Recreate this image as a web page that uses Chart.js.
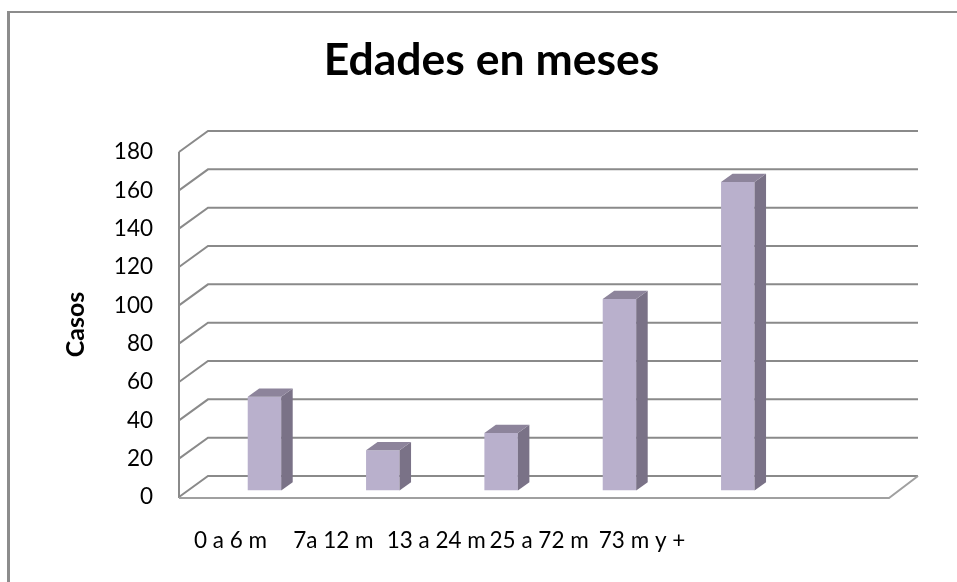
<!DOCTYPE html>
<html>
<head>
<meta charset="utf-8">
<script src="https://cdn.jsdelivr.net/npm/chart.js@4.4.1/dist/chart.umd.min.js"></script>
<style>
html,body{margin:0;padding:0;background:#ffffff;overflow:hidden}
#wrap{position:relative;width:957px;height:582px}
canvas{display:block}
</style>
</head>
<body>
<div id="wrap"><canvas id="c" width="957" height="582"></canvas></div>
<script>
// ---- data ----
const categories = ['0 a 6 m', '7a 12 m', '13 a 24 m', '25 a 72 m', '73 m y +'];
const casos = [49, 21, 30, 100, 161];
const yTicks = [0, 20, 40, 60, 80, 100, 120, 140, 160, 180];
const chartTitle = 'Edades en meses';
const yAxisTitle = 'Casos';

// ---- styles ----
const FONT = 'Lato, "Open Sans", "Liberation Sans", sans-serif';
const FRONT = '#b9b0cc';
const SIDE = '#7a7287';
const TOP = '#8d849b';
const GRID = '#8a8a8a';
const FLOOR_FRONT = '#a0a0a0';
const WALL_DX = 29, WALL_DY = -21;   // back wall offset
const BAR_DX = 26.3, BAR_DY = -6.4;   // bar plane offset
const DEPTH_DX = 11.5, DEPTH_DY = -8.3; // bar depth

const threeD = {
  id: 'threeD',
  beforeDraw(chart) {
    const ctx = chart.ctx;
    const a = chart.chartArea;
    const y = chart.scales.y;
    ctx.save();
    // frame
    ctx.fillStyle = '#8c8c8c';
    ctx.fillRect(7, 11, 3, 700);
    ctx.fillRect(7, 11, 1100, 2);
    // back wall gridlines
    ctx.strokeStyle = GRID;
    ctx.lineWidth = 2;
    ctx.lineJoin = 'miter';
    y.ticks.forEach(t => {
      const yy = y.getPixelForValue(t.value);
      ctx.beginPath();
      ctx.moveTo(a.left, yy);
      ctx.lineTo(a.left + WALL_DX, yy + WALL_DY);
      ctx.lineTo(a.right + WALL_DX, yy + WALL_DY);
      ctx.stroke();
    });
    // left edge
    ctx.beginPath();
    ctx.moveTo(a.left, y.getPixelForValue(yTicks[yTicks.length - 1]));
    ctx.lineTo(a.left, a.bottom + 1);
    ctx.stroke();
    // floor front
    const y0 = y.getPixelForValue(0) + 1;
    ctx.strokeStyle = FLOOR_FRONT;
    ctx.beginPath();
    ctx.moveTo(a.left, y0);
    ctx.lineTo(a.right, y0);
    ctx.lineTo(a.right + WALL_DX, y0 + WALL_DY - 1);
    ctx.stroke();
    ctx.restore();
  },
  beforeDatasetsDraw(chart) {
    chart.ctx.save();
    chart.ctx.translate(BAR_DX, BAR_DY);
  },
  afterDatasetsDraw(chart) {
    const ctx = chart.ctx;
    ctx.restore();
    ctx.save();
    const meta = chart.getDatasetMeta(0);
    meta.data.forEach(el => {
      const p = el.getProps(['x', 'y', 'base', 'width'], true);
      const l = p.x - p.width / 2 + BAR_DX;
      const r = p.x + p.width / 2 + BAR_DX;
      const t = p.y + BAR_DY;
      const b = p.base + BAR_DY;
      // side
      ctx.fillStyle = SIDE;
      ctx.beginPath();
      ctx.moveTo(r, t);
      ctx.lineTo(r + DEPTH_DX, t + DEPTH_DY);
      ctx.lineTo(r + DEPTH_DX, b + DEPTH_DY);
      ctx.lineTo(r, b);
      ctx.closePath();
      ctx.fill();
      // top
      ctx.fillStyle = TOP;
      ctx.beginPath();
      ctx.moveTo(l, t);
      ctx.lineTo(l + DEPTH_DX, t + DEPTH_DY);
      ctx.lineTo(r + DEPTH_DX, t + DEPTH_DY);
      ctx.lineTo(r, t);
      ctx.closePath();
      ctx.fill();
    });
    ctx.restore();
  }
};

new Chart(document.getElementById('c'), {
  type: 'bar',
  data: {
    labels: [...categories, ''],
    datasets: [{
      data: casos,
      backgroundColor: FRONT,
      borderWidth: 0,
      barPercentage: 0.283,
      categoryPercentage: 1,
      xAxisID: 'x',
      yAxisID: 'y'
    }]
  },
  options: {
    responsive: false,
    animation: false,
    devicePixelRatio: 1,
    layout: { padding: { left: 26, right: 0, top: 0, bottom: 0 } },
    plugins: {
      legend: { display: false },
      tooltip: { enabled: false },
      title: {
        display: true,
        text: chartTitle,
        color: '#000000',
        font: { family: FONT, size: 44.5, weight: 'bold', lineHeight: 1.2 },
        padding: { top: 34, bottom: 64.6 }
      }
    },
    scales: {
      x: { type: 'category', display: false, offset: true },
      x2: {
        type: 'linear',
        position: 'bottom',
        offset: false,
        min: -0.5,
        max: 6.4,
        afterBuildTicks: s => { s.ticks = categories.map((c, i) => ({ value: i })); },
        afterFit: s => { s.height = 85; },
        grid: { display: false, drawTicks: false },
        border: { display: false },
        ticks: {
          autoSkip: false,
          maxRotation: 0,
          padding: 30,
          color: '#000000',
          font: { family: FONT, size: 22.5 },
          callback: v => categories[v] !== undefined ? categories[v] : ''
        }
      },
      y: {
        type: 'linear',
        position: 'left',
        min: 0,
        max: 180,
        afterBuildTicks: s => { s.ticks = yTicks.map(v => ({ value: v })); },
        afterFit: s => { s.width = 153; },
        grid: { display: false, drawTicks: false },
        border: { display: false },
        ticks: {
          padding: 26,
          color: '#000000',
          font: { family: FONT, size: 22.5 }
        },
        title: {
          display: true,
          text: yAxisTitle,
          color: '#000000',
          font: { family: FONT, size: 25, weight: 'bold', lineHeight: 1.2 },
          padding: { top: 35, bottom: 0 }
        }
      },
      yr: {
        type: 'linear',
        position: 'right',
        display: true,
        afterFit: s => { s.width = 68; },
        grid: { display: false, drawTicks: false },
        border: { display: false },
        ticks: { display: false }
      }
    }
  },
  plugins: [threeD]
});
</script>
</body>
</html>
